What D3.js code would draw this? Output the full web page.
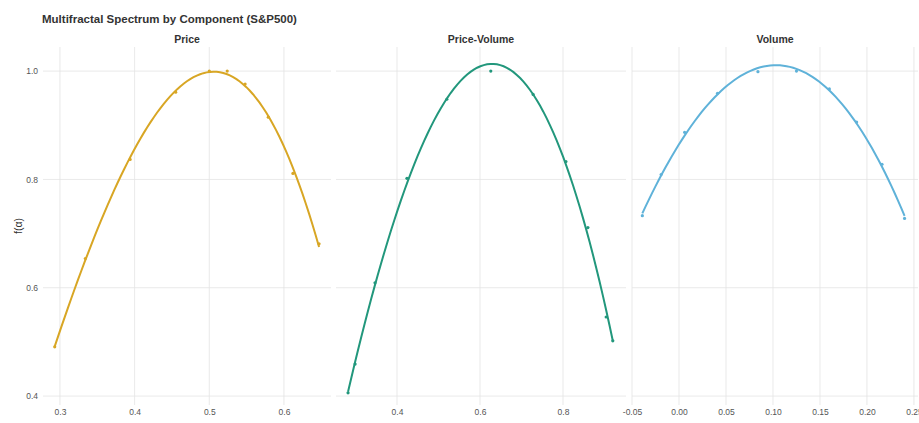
<!DOCTYPE html>
<html><head><meta charset="utf-8">
<script src="https://cdn.jsdelivr.net/npm/d3@7"></script>
<style>body{margin:0;background:#fff;font-family:"Liberation Sans",Arial,sans-serif}</style>
</head><body><svg id="c" width="919" height="423"></svg>
<script>
const components = ["Price", "Price-Volume", "Volume"];
const colors = ["#D8A624", "#22977C", "#5FB2D9"];
const priceAlpha = [0.293, 0.334, 0.394, 0.455, 0.500, 0.524, 0.548, 0.579, 0.612, 0.647];
const priceF     = [0.491, 0.654, 0.837, 0.961, 1.000, 1.000, 0.976, 0.915, 0.811, 0.681];
const pvAlpha = [0.282, 0.299, 0.347, 0.424, 0.520, 0.626, 0.728, 0.807, 0.860, 0.904, 0.920];
const pvF     = [0.406, 0.459, 0.609, 0.802, 0.948, 1.000, 0.957, 0.833, 0.711, 0.546, 0.502];
const volAlpha = [-0.039, -0.019, 0.006, 0.041, 0.084, 0.125, 0.160, 0.189, 0.216, 0.240];
const volF     = [0.733, 0.809, 0.887, 0.959, 0.999, 1.000, 0.967, 0.906, 0.828, 0.728];
const xTicks = [[0.3, 0.4, 0.5, 0.6], [0.4, 0.6, 0.8], [-0.05, 0, 0.05, 0.10, 0.15, 0.20, 0.25]];
const xFormats = [".1f", ".1f", ".2f"];
const yTicks = [0.4, 0.6, 0.8, 1.0];
const title = "Multifractal Spectrum by Component (S&P500)";
const yLabel = "f(α)";

const series = [
  {alpha: priceAlpha, f: priceF},
  {alpha: pvAlpha, f: pvF},
  {alpha: volAlpha, f: volF}
];

const locale = d3.formatLocale({decimal: ".", thousands: ",", grouping: [3], currency: ["$", ""], minus: "-"});

// least-squares polynomial smooth (like geom_smooth(method = "lm", formula = y ~ poly(x, 3)))
function polyFit(xs, ys, deg) {
  const m = deg + 1, xm = d3.mean(xs), xsd = d3.deviation(xs);
  const S = Array.from({length: m}, () => new Array(m).fill(0)), B = new Array(m).fill(0);
  xs.forEach((xv, i) => {
    const t = (xv - xm) / xsd, v = d3.range(m).map(p => Math.pow(t, p));
    for (let a = 0; a < m; a++) { B[a] += v[a] * ys[i]; for (let b = 0; b < m; b++) S[a][b] += v[a] * v[b]; }
  });
  const M = S.map((r, i) => r.concat([B[i]]));
  for (let c = 0; c < m; c++) {
    let p = c; for (let r = c + 1; r < m; r++) if (Math.abs(M[r][c]) > Math.abs(M[p][c])) p = r;
    [M[c], M[p]] = [M[p], M[c]];
    for (let r = 0; r < m; r++) if (r !== c) { const k = M[r][c] / M[c][c]; for (let j = c; j <= m; j++) M[r][j] -= k * M[c][j]; }
  }
  const coef = M.map((r, i) => r[m] / r[i]);
  return xv => { const t = (xv - xm) / xsd; return coef.reduce((s, c, p) => s + c * Math.pow(t, p), 0); };
}

const svg = d3.select("#c");
svg.append("text").attr("x", 42).attr("y", 23).attr("font-size", 11.5).attr("font-weight", "bold").attr("fill", "#333").text(title);

const panelX = [[43, 331], [336, 626], [632, 918]];
const plotTop = 47, plotBottom = 405;
const y = d3.scaleLinear().domain([0.3835, 1.0445]).range([plotBottom, plotTop]);
const xDomains = [[0.2773, 0.6630], [0.2530, 0.9518], [-0.0500, 0.2543]];

svg.append("text").attr("transform", `translate(22,${(plotTop + plotBottom) / 2}) rotate(-90)`)
  .attr("text-anchor", "middle").attr("font-size", 10.5).attr("fill", "#333").text(yLabel);

series.forEach((s, k) => {
  const [x0, x1] = panelX[k];
  const x = d3.scaleLinear().domain(xDomains[k]).range([x0, x1]);
  const g = svg.append("g");
  g.selectAll(".hg").data(yTicks).join("line").attr("x1", x0).attr("x2", x1)
    .attr("y1", d => y(d)).attr("y2", d => y(d)).attr("stroke", "#e3e3e3").attr("stroke-width", 0.8);
  g.selectAll(".vg").data(xTicks[k]).join("line").attr("x1", d => x(d)).attr("x2", d => x(d))
    .attr("y1", plotTop).attr("y2", plotBottom).attr("stroke", "#e3e3e3").attr("stroke-width", 0.8);
  const xa = d3.axisBottom(x).tickValues(xTicks[k]).tickFormat(locale.format(xFormats[k])).tickSize(0).tickPadding(4);
  const ax = g.append("g").attr("transform", `translate(0,${plotBottom})`).call(xa);
  ax.select(".domain").remove();
  ax.selectAll("text").attr("font-size", 8.5).attr("fill", "#555").attr("font-family", "Liberation Sans, Arial, sans-serif");
  if (k === 0) {
    const ya = d3.axisLeft(y).tickValues(yTicks).tickFormat(locale.format(".1f")).tickSize(0).tickPadding(5);
    const ay = g.append("g").attr("transform", `translate(${x0},0)`).call(ya);
    ay.select(".domain").remove();
    ay.selectAll("text").attr("font-size", 8.5).attr("fill", "#555").attr("font-family", "Liberation Sans, Arial, sans-serif");
  }
  g.append("text").attr("x", (x0 + x1) / 2).attr("y", 43).attr("text-anchor", "middle")
    .attr("font-size", 10.5).attr("font-weight", "bold").attr("fill", "#333").text(components[k]);
  const fit = polyFit(s.alpha, s.f, 3);
  const lo = d3.min(s.alpha), hi = d3.max(s.alpha);
  const pts = d3.range(81).map(i => { const a = lo + (hi - lo) * i / 80; return [a, fit(a)]; });
  g.append("path").datum(pts).attr("fill", "none").attr("stroke", colors[k]).attr("stroke-width", 2)
    .attr("d", d3.line().x(d => x(d[0])).y(d => y(d[1])));
  g.selectAll("circle").data(s.alpha.map((a, i) => [a, s.f[i]])).join("circle")
    .attr("cx", d => x(d[0])).attr("cy", d => y(d[1])).attr("r", 1.6).attr("fill", colors[k]);
});
</script></body></html>
